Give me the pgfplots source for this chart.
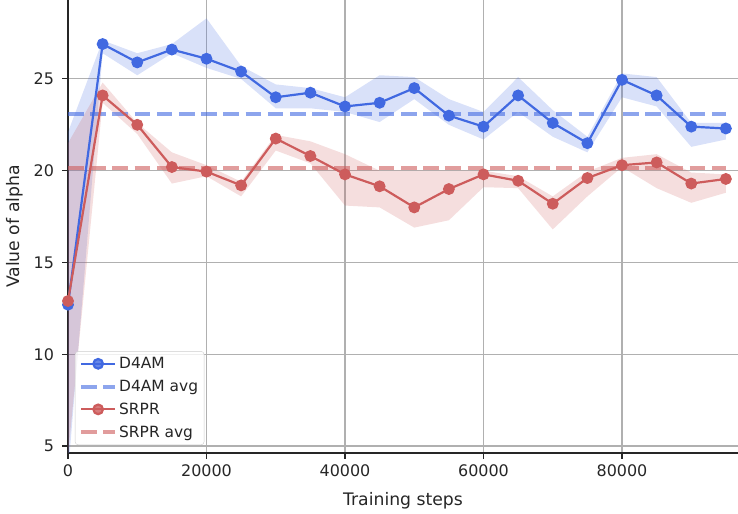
\documentclass[border=0pt]{standalone}
\usepackage{fontspec}
\setmainfont{DejaVu Sans}
\usepackage{pgfplots}
\pgfplotsset{compat=1.18}
\usepackage{pgfplotstable}
\usepgfplotslibrary{fillbetween}

\definecolor{dblue}{RGB}{65,105,225}
\definecolor{sred}{RGB}{205,92,92}
\definecolor{gridgray}{RGB}{176,176,176}
\definecolor{txt}{RGB}{38,38,38}

% x, mean, lower, upper for each method
\pgfplotstableread{
x     b     bl     bh     r      rl     rh
0     12.7  3.5    22.1   12.9   4.5    21.5
5000  26.9  26.4   27.1   24.1   23.7   24.8
10000 25.9  25.2   26.4   22.5   22.0   22.6
15000 26.6  26.4   26.9   20.2   19.3   21.0
20000 26.1  25.6   28.3   19.95  19.7   20.3
25000 25.4  25.0   25.7   19.2   18.6   19.4
30000 24.0  23.4   24.7   21.75  21.1   21.95
35000 24.25 23.4   24.5   20.8   20.4   21.6
40000 23.5  23.2   24.0   19.8   18.1   20.9
45000 23.7  22.65  25.2   19.15  18.0   20.0
50000 24.5  23.9   25.1   18.0   16.9   20.0
55000 23.0  22.5   23.9   19.0   17.3   20.0
60000 22.4  21.7   23.2   19.8   19.1   20.0
65000 24.1  23.2   25.1   19.45  19.05  19.7
70000 22.6  21.85  23.3   18.2   16.8   18.6
75000 21.5  21.0   21.85  19.6   18.6   19.95
80000 24.95 24.0   25.3   20.3   20.2   20.7
85000 24.1  23.5   25.1   20.45  19.05  20.9
90000 22.4  21.3   22.6   19.3   18.25  19.9
95000 22.3  21.7   22.6   19.55  18.8   19.8
}\alphadata

\begin{document}
\begin{tikzpicture}
\begin{axis}[
    name=ax,
    scale only axis,
    width=670bp, height=453bp,
    xmin=0, xmax=96750,
    ymin=4.62, ymax=29.3,
    xtick={0,20000,40000,60000,80000},
    ytick={5,10,15,20,25},
    scaled x ticks=false,
    /pgf/number format/.cd, set thousands separator={}, assume math mode=true,
    /pgfplots/.cd,
    axis x line*=bottom,
    axis y line*=left,
    axis line style={txt, line width=1.1bp, -},
    tick align=outside,
    major tick length=5.5bp,
    tick style={txt, line width=1.1bp},
    grid=major,
    major grid style={gridgray, line width=1.1bp},
    tick label style={font=\fontsize{16}{19}\selectfont, text=txt},
    xticklabel style={yshift=-3bp},
    yticklabel style={xshift=-5bp},
    xlabel={Training steps},
    ylabel={Value of alpha},
    label style={font=\fontsize{17.3}{20}\selectfont, text=txt},
    xlabel style={at={(axis description cs:0.5,-0.086)}, anchor=north, inner sep=0pt},
    ylabel style={at={(axis description cs:-0.0672,0.5)}, anchor=south, inner sep=0pt},
    legend style={at={(axis description cs:0.0104,0.0177)}, anchor=south west,
        draw=black!20, rounded corners=3bp, fill=white, fill opacity=0.8, text opacity=1,
        font=\fontsize{15.5}{18}\selectfont, text=txt,
        row sep=6bp, inner xsep=4bp, inner ysep=4bp},
    legend cell align=left,
    legend image code/.code={
        \draw[mark repeat=2,mark phase=2] plot coordinates {(0bp,0bp) (17bp,0bp) (34bp,0bp)};},
]
% D4AM
\addplot[name path=bl, draw=none, forget plot] table[x=x, y=bl] {\alphadata};
\addplot[name path=bh, draw=none, forget plot] table[x=x, y=bh] {\alphadata};
\addplot[dblue, fill opacity=0.2, forget plot] fill between[of=bl and bh];
\addplot[dblue, line width=2.2bp, mark=*, mark size=4.8bp, mark options={solid}] table[x=x, y=b] {\alphadata};
\addlegendentry{D4AM}
\addplot[dblue, draw opacity=0.6, line width=4bp, dash pattern=on 15.5bp off 6.7bp] coordinates {(0,23.1) (95000,23.1)};
\addlegendentry{D4AM avg}
% SRPR
\addplot[name path=rl, draw=none, forget plot] table[x=x, y=rl] {\alphadata};
\addplot[name path=rh, draw=none, forget plot] table[x=x, y=rh] {\alphadata};
\addplot[sred, fill opacity=0.2, forget plot] fill between[of=rl and rh];
\addplot[sred, line width=2.2bp, mark=*, mark size=4.8bp, mark options={solid}] table[x=x, y=r] {\alphadata};
\addlegendentry{SRPR}
\addplot[sred, draw opacity=0.6, line width=4bp, dash pattern=on 15.5bp off 6.7bp] coordinates {(0,20.15) (95000,20.15)};
\addlegendentry{SRPR avg}
\end{axis}
\pgfresetboundingbox
\path ([xshift=-68bp,yshift=-61bp]ax.south west) rectangle (ax.north east);
\end{tikzpicture}
\end{document}
